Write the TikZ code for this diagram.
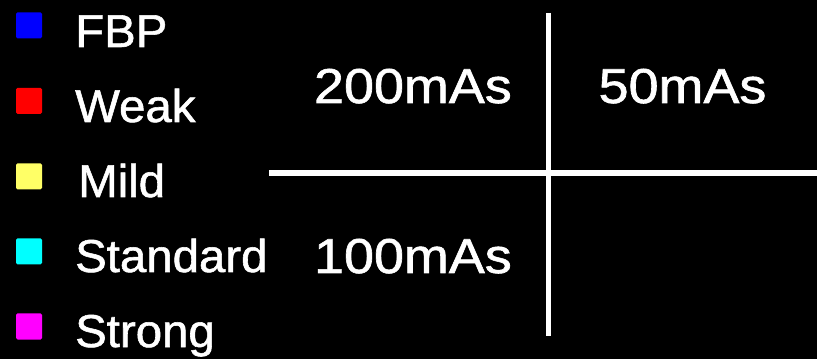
\documentclass[tikz,border=0pt]{standalone}
\usepackage{fontspec}
\setmainfont{Liberation Sans}
\newfontface\heavyfont{Liberation Sans}[FakeBold=1.2]
\definecolor{cblue}{RGB}{0,0,255}
\definecolor{cred}{RGB}{255,0,0}
\definecolor{cyel}{RGB}{255,255,102}
\definecolor{ccyan}{RGB}{0,255,255}
\definecolor{cmag}{RGB}{255,0,255}
\begin{document}
\begin{tikzpicture}[x=1pt,y=1pt,
  swatch/.style={minimum size=26pt,inner sep=0pt,rounded corners=1.5pt,draw=none},
  legtext/.style={anchor=base west,inner sep=0pt,text=white,font=\heavyfont\fontsize{46}{46}\selectfont},
  dosetext/.style={inner sep=0pt,text=white,font=\heavyfont\fontsize{49}{49}\selectfont},
  gridline/.style={draw=white,line width=5.5pt}]
\fill[black] (0,0) rectangle (817,359);
\useasboundingbox (0,0) rectangle (817,359);
% legend
\node[swatch,fill=cblue] (s1) at (29,333.5) {};
\node[swatch,fill=cred]  (s2) at (29,258) {};
\node[swatch,fill=cyel]  (s3) at (29,182.5) {};
\node[swatch,fill=ccyan] (s4) at (29,107.5) {};
\node[swatch,fill=cmag]  (s5) at (29,32.5) {};
\node[legtext] (t1) at (75,312) {\scalebox{1.03}[1]{FBP}};
\node[legtext] (t2) at (75,237) {\scalebox{1.03}[1]{Weak}};
\node[legtext] (t3) at (78,162) {\scalebox{1.03}[1]{Mild}};
\node[legtext] (t4) at (75,87) {\scalebox{1.03}[1]{Standard}};
\node[legtext] (t5) at (75,12) {\scalebox{1.03}[1]{Strong}};
% grid
\coordinate (vtop) at (548.3,346);
\coordinate (vbot) at (548.3,23);
\coordinate (hl) at (269.3,186);
\coordinate (hr) at (817,186);
\draw[gridline] (vtop) -- (vbot);
\draw[gridline] (hl) -- (hr);
% labels
\node[dosetext,anchor=base east] (d200) at (512,256) {\scalebox{1.1}[1]{200mAs}};
\node[dosetext,anchor=base] (d50) at (682.5,256) {\scalebox{1.1}[1]{50mAs}};
\node[dosetext,anchor=base east] (d100) at (512,86) {\scalebox{1.1}[1]{100mAs}};
\end{tikzpicture}
\end{document}
